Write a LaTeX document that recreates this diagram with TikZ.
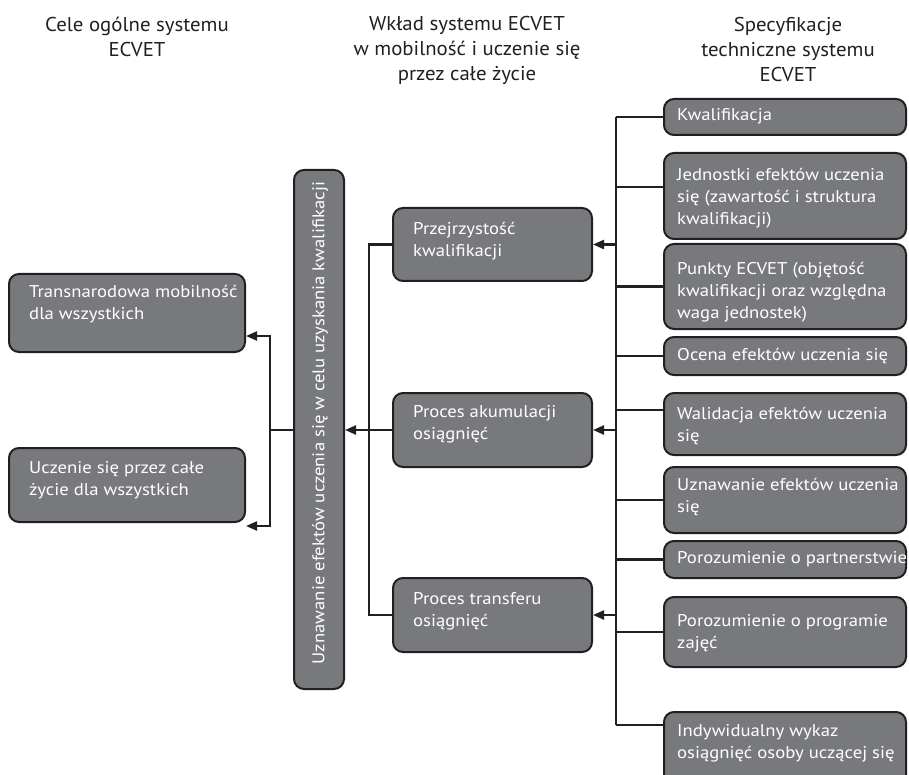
\documentclass[tikz,border=0pt]{standalone}
\usepackage{fontspec}
\setmainfont{PT Sans}
\newfontfamily\bodyfont[FakeStretch=1.1]{PT Sans}
\newfontfamily\headfont[FakeStretch=1.04]{PT Sans}
\usetikzlibrary{arrows.meta,fit}
\definecolor{boxgray}{RGB}{120,121,124}
\definecolor{ink}{RGB}{35,31,32}
\begin{document}
\begin{tikzpicture}[x=1pt,y=-1pt,
  box/.style={draw=ink, line width=2pt, fill=boxgray, rounded corners=10pt, inner sep=0pt},
  txt/.style={text=white, font=\bodyfont\fontsize{17}{22}\selectfont, align=left, anchor=west, inner sep=0pt},
  head/.style={text=ink, font=\headfont\fontsize{20}{25}\selectfont, align=center, inner sep=0pt},
  conn/.style={draw=ink, line width=2.2pt},
  arr/.style={conn, -{Triangle[length=11pt,width=9pt]}}]
\useasboundingbox (0,0) rectangle (909,775);
\clip (0,0) rectangle (909,775);

% headers
\node[head] (h1) at (137,37) {Cele ogólne systemu\\ECVET};
\node[head] (h2) at (467,50) {Wkład systemu ECVET\\w mobilność i uczenie się\\przez całe życie};
\node[head] (h3) at (788,50) {Specyfikacje\\techniczne systemu\\ECVET};

% left boxes
\node[box, fit={(9,274)(245,352)}] (tm) {};
\node[txt] at (29,304) {Transnarodowa mobilność\\dla wszystkich};
\node[box, fit={(9,448)(245,522)}] (ul) {};
\node[txt] at (29,480) {Uczenie się przez całe\\życie dla wszystkich};

% tall box
\node[box, fit={(294,170)(344,689)}] (uz) {};
\node[txt, anchor=center, rotate=90] at (320,423) {Uznawanie efektów uczenia się w celu uzyskania kwalifikacji};

% middle boxes
\node[box, fit={(393,208)(592,281)}] (pk) {};
\node[txt] at (413,241) {Przejrzystość\\kwalifikacji};
\node[box, fit={(393,393)(592,467)}] (pa) {};
\node[txt] at (413,424) {Proces akumulacji\\osiągnięć};
\node[box, fit={(393,578)(592,652)}] (pt) {};
\node[txt] at (413,611) {Proces transferu\\osiągnięć};

% right boxes
\node[box, fit={(664,99)(906,135)}] (kw) {};
\node[txt] at (677,116) {Kwalifikacja};
\node[box, fit={(664,153)(906,239)}] (je) {};
\node[txt] at (677,198) {Jednostki efektów uczenia\\się (zawartość i struktura\\kwalifikacji)};
\node[box, fit={(664,244)(906,329)}] (pu) {};
\node[txt] at (677,292) {Punkty ECVET (objętość\\kwalifikacji oraz względna\\waga jednostek)};
\node[box, fit={(664,337)(906,375)}] (oc) {};
\node[txt] at (677,356) {Ocena efektów uczenia się};
\node[box, fit={(664,393)(906,455)}] (wa) {};
\node[txt] at (677,426) {Walidacja efektów uczenia\\się};
\node[box, fit={(664,467)(906,533)}] (un) {};
\node[txt] at (677,497) {Uznawanie efektów uczenia\\się};
\node[box, fit={(664,541)(906,578)}] (pp) {};
\node[txt] at (677,559) {Porozumienie o partnerstwie};
\node[box, fit={(664,597)(906,667)}] (pr) {};
\node[txt] at (677,633) {Porozumienie o programie\\zajęć};
\node[box, fit={(664,712)(906,790)}] (iw) {};
\node[txt] at (677,743) {Indywidualny wykaz\\osiągnięć osoby uczącej się};

% connector helper coordinates
\coordinate (bus) at (616,0);
\coordinate (lv) at (369,0);
\coordinate (lv2) at (270,0);
\coordinate (jec) at ([yshift=-35pt]je.north west);
\coordinate (wac) at ([yshift=-18pt]wa.north west);
\coordinate (iwc) at ([yshift=-14pt]iw.north west);
\coordinate (tmc) at ([yshift=-63pt]tm.north east);
\coordinate (ulc) at ([yshift=-3pt]ul.south east);

% right bus
\draw[conn] (kw.west -| bus) -- (iwc -| bus);
\draw[conn] (kw.west -| bus) -- (kw.west);
\draw[conn] (jec -| bus) -- (jec);
\draw[conn] (pu.west -| bus) -- (pu.west);
\draw[conn] (oc.west -| bus) -- (oc.west);
\draw[conn] (wac -| bus) -- (wac);
\draw[conn] (un.west -| bus) -- (un.west);
\draw[conn] (pp.west -| bus) -- (pp.west);
\draw[conn] (pr.west -| bus) -- (pr.west);
\draw[conn] (iwc -| bus) -- (iwc);

% arrows to middle boxes
\draw[arr] (pk.east -| bus) -- (pk.east);
\draw[arr] (pa.east -| bus) -- (pa.east);
\draw[arr] (pt.east -| bus) -- (pt.east);

% middle to tall box
\draw[conn] (pk.west) -- (pk.west -| lv) -- (pt.west -| lv) -- (pt.west);
\draw[arr] (pa.west) -- (pa.west -| uz.east);

% tall box to goals
\draw[conn] (uz.west |- pa.west) -- (lv2 |- pa.west);
\draw[arr] (lv2 |- pa.west) -- (lv2 |- tmc) -- (tmc);
\draw[arr] (lv2 |- pa.west) -- (lv2 |- ulc) -- (ulc);
\end{tikzpicture}
\end{document}
